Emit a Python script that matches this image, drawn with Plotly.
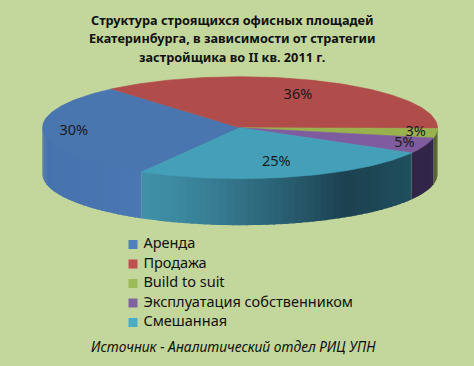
import math
import plotly.graph_objects as go

categories = ["Аренда", "Продажа", "Build to suit", "Эксплуатация собственником", "Смешанная"]
values = [30.4, 36.4, 3.0, 5.0, 25.0]
labels = ["30%", "36%", "3%", "5%", "25%"]
title_lines = ["Структура строящихся офисных площадей",
               "Екатеринбурга, в зависимости от стратегии",
               "застройщика во II кв. 2011 г."]
source_text = "Источник - Аналитический отдел РИЦ УПН"

top_colors = ["#4A76B0", "#B04C4A", "#99B24E", "#7E5C9E", "#43A0B8"]
legend_colors = ["#4F81BD", "#C0504D", "#9BBB59", "#8064A2", "#4BACC6"]
BG = "#C3D69B"

CX, CY, RX, RY, DEPTH = 240, 127.7, 197.5, 51, 46.5
LABEL_R = [0.845, 0.69, 0.895, 0.89, 0.70]
FONT = "Noto Sans"


def pt(a, r=1.0, dy=0.0):
    t = math.radians(a)
    return CX + RX * r * math.cos(t), CY - RY * r * math.sin(t) + dy


def lerp(c1, c2, f):
    f = max(0.0, min(1.0, f))
    a = [int(c1[i:i + 2], 16) for i in (1, 3, 5)]
    b = [int(c2[i:i + 2], 16) for i in (1, 3, 5)]
    return "rgb(%d,%d,%d)" % tuple(round(x + (y - x) * f) for x, y in zip(a, b))


def side_color(i, x):
    if i == 0:
        return lerp("#4672AD", "#4A78B2", (x - CX + RX) / 100)
    if i == 4:
        f = (x - 145) / 200
        if f < 1:
            return lerp("#3F90A8", "#1C4150", max(f, 0) ** 1.3)
        return lerp("#1C4150", "#20505E", (x - 345) / 72)
    if i == 3:
        return "#32254A"
    if i == 2:
        return "#4E5A2C"
    return "#5A2625"


total = sum(values)
START = 130.5 + values[0] / total * 360  # blue starts here, angles run clockwise
spans = []
a = START
for v in values:
    b = a - v / total * 360
    spans.append((a, b))
    a = b

fig = go.Figure()

# side wall (front half only), as thin strips so the shade can vary
for i, (a0, a1) in enumerate(spans):
    for k in range(-1, 1):
        lo, hi = a1 + 360 * k, a0 + 360 * k
        lo2, hi2 = max(lo, -180), min(hi, 0)
        if hi2 <= lo2:
            continue
        n = max(1, int((hi2 - lo2) / 2))
        for j in range(n):
            s = hi2 - (hi2 - lo2) * j / n
            e = hi2 - (hi2 - lo2) * (j + 1) / n
            e2 = max(e - 0.6, lo2)
            pts = [s - (s - e2) * q / 4 for q in range(5)]
            xs = [pt(p, dy=-1.5)[0] for p in pts] + [pt(p, dy=DEPTH)[0] for p in reversed(pts)]
            ys = [pt(p, dy=-1.5)[1] for p in pts] + [pt(p, dy=DEPTH)[1] for p in reversed(pts)]
            fig.add_trace(go.Scatter(
                x=xs, y=ys, mode="lines", fill="toself", line=dict(width=0),
                fillcolor=side_color(i, pt((s + e) / 2)[0]),
                hoverinfo="skip", showlegend=False))

# top face
for i, (a0, a1) in enumerate(spans):
    n = max(4, int((a0 - a1)))
    pts = [pt(a0 - (a0 - a1) * q / n) for q in range(n + 1)]
    fig.add_trace(go.Scatter(
        x=[CX] + [p[0] for p in pts] + [CX],
        y=[CY] + [p[1] for p in pts] + [CY],
        mode="lines", fill="toself", line=dict(width=0.6, color=top_colors[i]),
        fillcolor=top_colors[i], name=categories[i],
        text=labels[i], hoverinfo="name+text", showlegend=False))

# data labels
lx, ly = [], []
for i, (a0, a1) in enumerate(spans):
    p = pt((a0 + a1) / 2, LABEL_R[i])
    lx.append(p[0])
    ly.append(p[1])
fig.add_trace(go.Scatter(
    x=lx, y=ly, mode="text", text=labels, hoverinfo="skip", showlegend=False,
    textfont=dict(family=FONT, size=14.5, color="#1A1A1A")))

# legend
fig.add_trace(go.Scatter(
    x=[133] * 5, y=[244.5 + 19.5 * i for i in range(5)], mode="markers+text",
    marker=dict(symbol="square", size=9, color=legend_colors, line=dict(width=0)),
    text=[" " + c for c in categories], textposition="middle right",
    textfont=dict(family=FONT, size=14.5, color="#111111"),
    hoverinfo="skip", showlegend=False))

for i, line in enumerate(title_lines):
    fig.add_annotation(x=232, y=19.5 + 18.7 * i, text="<b>%s</b>" % line, showarrow=False,
                       font=dict(family=FONT, size=12.7, color="#111111"))
fig.add_annotation(x=233, y=346, text="<i>%s</i>" % source_text, showarrow=False,
                   font=dict(family=FONT, size=13.8, color="#111111"))

fig.update_layout(
    width=474, height=366, margin=dict(l=0, r=0, t=0, b=0), autosize=False,
    paper_bgcolor=BG, plot_bgcolor=BG, showlegend=False,
    xaxis=dict(range=[0, 474], visible=False, fixedrange=True),
    yaxis=dict(range=[366, 0], visible=False, fixedrange=True),
)
fig.write_html("out.html", config=dict(displayModeBar=False),
               post_script="document.body.style.margin='0';document.documentElement.style.overflow='hidden';")
